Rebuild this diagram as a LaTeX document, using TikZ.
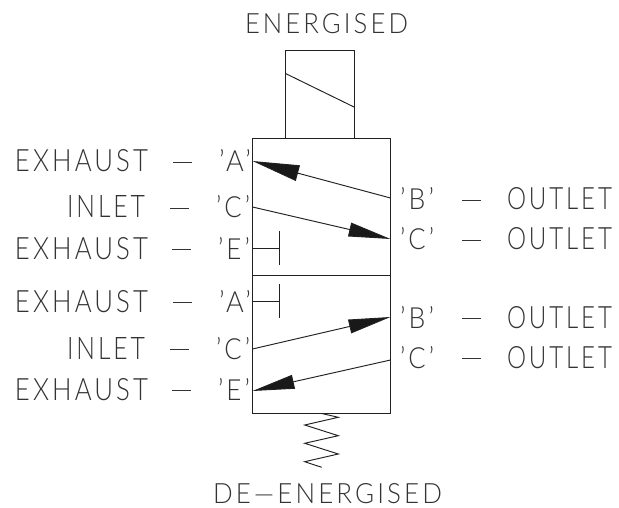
\documentclass[tikz,border=0pt]{standalone}
\usepackage{fontspec}
\usepackage{graphicx}
\setmainfont[LetterSpace=12]{Lato Light}
\usetikzlibrary{arrows.meta}
\definecolor{ink}{gray}{0.13}
\definecolor{txt}{gray}{0.2}
\tikzset{
  line/.style={draw=ink,line width=0.95pt},
  flow/.style={line,-{Triangle[length=42pt,width=14pt,fill=black!90]}},
  flowbig/.style={line,-{Triangle[length=47pt,width=16pt,fill=black!90]}},
  lab/.style={anchor=base west,inner sep=0pt,outer sep=0pt,text=txt},
  dashlab/.style={anchor=center,inner sep=0pt,outer sep=0pt,text=txt},
  body/.style={line,fill=none,inner sep=0pt,outer sep=0pt}
}
\newcommand{\fit}[3]{\resizebox{#1pt}{#2pt}{#3}}
\newcommand{\dsh}{\rule{19pt}{0.9pt}}
\begin{document}
\begin{tikzpicture}[x=1pt,y=-1pt]
\useasboundingbox (0,0) rectangle (619,508);
% bodies
\node[body,minimum width=138pt,minimum height=137.5pt] (upper) at (321.5,207) {};
\node[body,minimum width=138pt,minimum height=138pt] (lower) at (321.5,344.5) {};
\node[body,minimum width=68.5pt,minimum height=88pt] (sol) at (319.75,94) {};
\draw[line] (285.5,73.5) coordinate (s1) -- (354,107) coordinate (s2);
% ports
\coordinate (uA) at (252.5,161);
\coordinate (uB) at (390.5,198);
\coordinate (uCl) at (252.5,207);
\coordinate (uCr) at (390.5,239);
\coordinate (uE) at (252.5,248);
\coordinate (uEb) at (279,248);
\coordinate (uE1) at (279,231);
\coordinate (uE2) at (279,265);
\coordinate (lA) at (252.5,301);
\coordinate (lAb) at (279,301);
\coordinate (lA1) at (279,284);
\coordinate (lA2) at (279,318);
\coordinate (lCl) at (252.5,349);
\coordinate (lB) at (390.5,317);
\coordinate (lCr) at (390.5,360);
\coordinate (lE) at (252.5,391);
\draw[flowbig] (uB) -- (uA);
\draw[flow] (uCl) -- (uCr);
\draw[flow] (lCl) -- (lB);
\draw[flow] (lCr) -- (lE);
\draw[line] (uE) -- (uEb);
\draw[line] (uE1) -- (uE2);
\draw[line] (lA) -- (lAb);
\draw[line] (lA1) -- (lA2);
% spring
\coordinate (sp0) at (321.7,413.5);
\draw[line] (sp0) -- (338.3,417.3) -- (304.7,425) -- (338.3,435.7) -- (304.7,443.3) -- (338.3,454) -- (304.7,461.7) -- (321.7,467.3);
% title labels
\node[lab] (top) at (245,34) {\fit{163}{20}{ENERGISED}};
\node[lab] (bot) at (213,503.5) {\fit{229}{20}{DE—ENERGISED}};
% left labels
\node[lab] (e1) at (15,172) {\fit{133}{22}{EXHAUST}};
\node[dashlab] (d1) at (182.5,162) {\dsh};
\node[lab] (p1) at (219,172) {\fit{32}{22}{'A'}};
\node[lab] (i1) at (67,218) {\fit{78}{22}{INLET}};
\node[dashlab] (d2) at (179.5,208) {\dsh};
\node[lab] (p2) at (216,218) {\fit{34}{22}{'C'}};
\node[lab] (e2) at (15,259) {\fit{133}{22}{EXHAUST}};
\node[dashlab] (d3) at (181.5,249) {\dsh};
\node[lab] (p3) at (218,259) {\fit{32}{22}{'E'}};
\node[lab] (e3) at (15,312) {\fit{133}{22}{EXHAUST}};
\node[dashlab] (d4) at (182.5,302) {\dsh};
\node[lab] (p4) at (219,312) {\fit{32}{22}{'A'}};
\node[lab] (i2) at (67,359) {\fit{78}{22}{INLET}};
\node[dashlab] (d5) at (179.5,349) {\dsh};
\node[lab] (p5) at (216,359) {\fit{34}{22}{'C'}};
\node[lab] (e4) at (15,400) {\fit{133}{22}{EXHAUST}};
\node[dashlab] (d6) at (181.5,390) {\dsh};
\node[lab] (p6) at (218,400) {\fit{32}{22}{'E'}};
% right labels
\node[lab] (p7) at (400,210) {\fit{34}{22}{'B'}};
\node[dashlab] (d7) at (471.5,200) {\dsh};
\node[lab] (o1) at (507,210) {\fit{105}{22}{OUTLET}};
\node[lab] (p8) at (400,250) {\fit{34}{22}{'C'}};
\node[dashlab] (d8) at (471.5,240) {\dsh};
\node[lab] (o2) at (507,250) {\fit{105}{22}{OUTLET}};
\node[lab] (p9) at (400,328) {\fit{34}{22}{'B'}};
\node[dashlab] (d9) at (471.5,318) {\dsh};
\node[lab] (o3) at (507,328) {\fit{105}{22}{OUTLET}};
\node[lab] (p10) at (400,368) {\fit{34}{22}{'C'}};
\node[dashlab] (d10) at (471.5,358) {\dsh};
\node[lab] (o4) at (507,368) {\fit{105}{22}{OUTLET}};
\end{tikzpicture}
\end{document}
